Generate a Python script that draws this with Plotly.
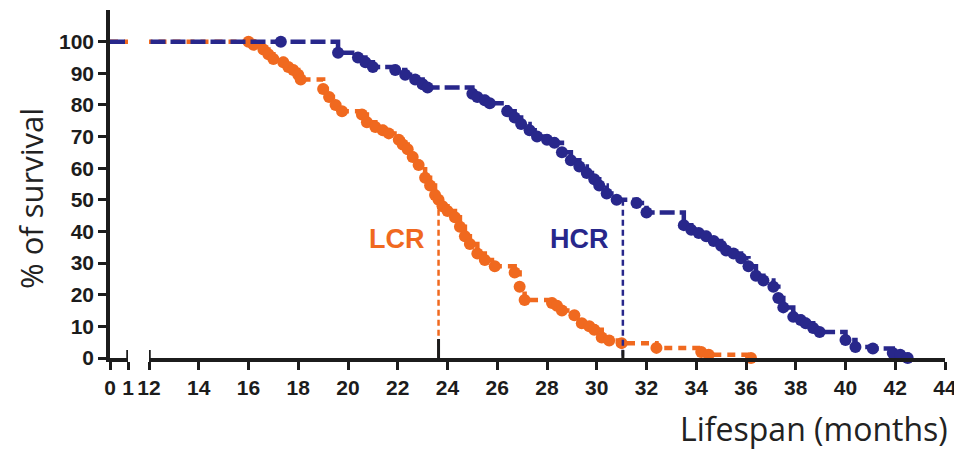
import plotly.graph_objects as go

# ---------------- data ----------------
hcr_months = [0, 17.3, 19.6, 20.4, 20.7, 21.0, 21.9, 22.3, 22.7, 23.0, 23.2, 25.0, 25.2, 25.5,
              25.7, 26.4, 26.7, 26.96, 27.3, 27.6, 28.0, 28.3, 28.6, 28.96, 29.3, 29.6, 29.9,
              30.1, 30.4, 30.8, 31.6, 32.0, 33.5, 33.8, 34.1, 34.4, 34.7, 35.0, 35.2, 35.5,
              35.8, 36.1, 36.4, 36.7, 37.1, 37.3, 37.5, 37.9, 38.2, 38.4, 38.7, 38.96, 40.0,
              40.4, 41.1, 41.9, 42.2, 42.5]
hcr_surv = [100, 100, 96.5, 95, 93.5, 92, 91, 89.5, 88, 86.5, 85.5, 83.5, 82.5, 81.5,
            80.5, 78, 76, 74, 72, 70, 69, 68, 65, 62.5, 60.5, 58.5, 56.5,
            54.5, 52, 50, 49, 46, 42, 40.5, 39.5, 38.5, 37, 35.5, 34, 33,
            31.5, 29, 26, 24.5, 22.5, 19, 16, 13, 12, 11, 9.5, 8.2, 5.7,
            3.5, 3.0, 1.6, 1.0, 0]

lcr_months = [0, 16.0, 16.2, 16.6, 16.8, 17.0, 17.4, 17.6, 17.8, 18.0, 18.1, 19.0, 19.24,
              19.5, 19.76, 20.56, 20.76, 21.1, 21.4, 21.64, 22.04, 22.2, 22.4, 22.6, 22.84,
              23.1, 23.3, 23.5, 23.64, 23.8, 24.0, 24.3, 24.5, 24.7, 24.9, 25.2, 25.5, 25.9,
              26.7, 26.9, 27.1, 28.2, 28.4, 28.6, 29.1, 29.4, 29.7, 29.9, 30.2, 30.5, 31.0,
              32.4, 34.2, 34.5, 36.2]
lcr_surv = [100, 100, 99, 97.5, 96, 94.5, 93.5, 92, 91, 89.5, 88, 85, 82.5,
            80, 78, 77, 74.5, 73, 72, 71, 69, 67.5, 66, 63.5, 61,
            57, 54.5, 51.5, 50, 48, 46.5, 44.5, 41.5, 38.5, 36, 33, 31, 29,
            27, 22.5, 18.3, 17.4, 16.5, 15, 13.5, 11, 10, 8.9, 6.5, 5.5, 4.7,
            3.2, 1.9, 1.0, 0]

lcr_median = 23.64
hcr_median = 31.05
median_level = 50

y_ticks = [0, 10, 20, 30, 40, 50, 60, 70, 80, 90, 100]
x_ticks_low = [0, 1]
x_ticks_high = [12, 14, 16, 18, 20, 22, 24, 26, 28, 30, 32, 34, 36, 38, 40, 42, 44]

group_labels = ["LCR", "HCR"]
label_pos = [(21.95, 37.6), (29.3, 37.6)]
x_title = "Lifespan (months)"
y_title = "% of survival"

NAVY = "#28278B"
ORANGE = "#F0691F"
AXIS = "#1c1c1c"

# ---------------- layout geometry (page pixels) ----------------
PAGE_W, PAGE_H = 962, 468
OFF = 8                      # default body margin of the html page
W, H = PAGE_W - OFF, PAGE_H - OFF
plot_left, plot_right, plot_top, plot_bottom = 110, 945, 10, 358   # page coords
L = plot_left - OFF
T = plot_top - OFF
R = W - (plot_right - OFF)
B = H - (plot_bottom - OFF)
plot_w = plot_right - plot_left
plot_h = plot_bottom - plot_top


def px_to_paper_x(px):
    return (px - plot_left) / plot_w


def px_to_paper_y(py):
    return (plot_bottom - py) / plot_h


fig = go.Figure()

series = [
    ("LCR", lcr_months, lcr_surv, ORANGE, "8px,6px"),
    ("HCR", hcr_months, hcr_surv, NAVY, "15px,5px"),
]

for name, xs, ys, col, dash in series:
    # low segment (0-1 months)
    fig.add_trace(go.Scatter(x=xs, y=ys, xaxis="x", yaxis="y", mode="lines",
                             line=dict(color=col, width=4.5, dash=dash, shape="hv"),
                             showlegend=False, hoverinfo="skip"))
    # main segment (12-44 months)
    fig.add_trace(go.Scatter(x=xs, y=ys, xaxis="x2", yaxis="y", mode="lines+markers",
                             line=dict(color=col, width=4.5, dash=dash, shape="hv"),
                             marker=dict(color=col, size=12),
                             cliponaxis=False, name=name, showlegend=False))

# median drop lines
for med, col, stub in [(lcr_median, ORANGE, 6), (hcr_median, NAVY, 2.5)]:
    fig.add_trace(go.Scatter(x=[med, med], y=[median_level, 0], xaxis="x2", yaxis="y",
                             mode="lines", line=dict(color=col, width=2.5, dash="6px,4px"),
                             showlegend=False, hoverinfo="skip"))
    fig.add_trace(go.Scatter(x=[med, med], y=[stub, 0], xaxis="x2", yaxis="y",
                             mode="lines", line=dict(color=AXIS, width=3),
                             showlegend=False, hoverinfo="skip", cliponaxis=False))

# axis-break end bars
fig.add_shape(type="line", xref="x", yref="y", x0=x_ticks_low[-1], x1=x_ticks_low[-1],
              y0=0, y1=2.5, line=dict(color=AXIS, width=3.5))
fig.add_shape(type="line", xref="x2", yref="y", x0=x_ticks_high[0], x1=x_ticks_high[0],
              y0=0, y1=2.5, line=dict(color=AXIS, width=3.5))

tickfont = dict(family="Liberation Sans, Arial, sans-serif", size=21, color=AXIS, weight="bold")

d1 = px_to_paper_x(128)
d2 = px_to_paper_x(149)

fig.update_layout(
    width=W, height=H,
    margin=dict(l=L, r=R, t=T, b=B),
    paper_bgcolor="white", plot_bgcolor="white",
    xaxis=dict(domain=[0, d1], range=[0, 1], tickvals=x_ticks_low,
               showline=True, linecolor=AXIS, linewidth=3.5, ticks="outside",
               ticklen=8, tickwidth=3, tickcolor=AXIS, tickfont=tickfont,
               showgrid=False, zeroline=False, anchor="y"),
    xaxis2=dict(domain=[d2, 1], range=[12, 44], tickvals=x_ticks_high,
                showline=True, linecolor=AXIS, linewidth=3.5, ticks="outside",
                ticklen=8, tickwidth=3, tickcolor=AXIS, tickfont=tickfont,
                showgrid=False, zeroline=False, anchor="y"),
    yaxis=dict(range=[0, 110], tickvals=y_ticks, showline=True, linecolor=AXIS,
               linewidth=3.5, ticks="outside", ticklen=8, tickwidth=3, tickcolor=AXIS,
               tickfont=tickfont, showgrid=False, zeroline=False, anchor="x"),
    showlegend=False,
)

for txt, (lx, ly), col in zip(group_labels, label_pos, [ORANGE, NAVY]):
    fig.add_annotation(x=lx, y=ly, xref="x2", yref="y", text=txt, showarrow=False,
                       font=dict(family="Liberation Sans, Arial, sans-serif", size=27,
                                 color=col, weight="bold"))

fig.add_annotation(x=px_to_paper_x(950), y=px_to_paper_y(428), xref="paper", yref="paper",
                   text=x_title, showarrow=False, xanchor="right", yanchor="middle",
                   font=dict(family="Open Sans, sans-serif", size=32, color="#222"))
fig.add_annotation(x=px_to_paper_x(31), y=px_to_paper_y(199), xref="paper", yref="paper",
                   text=y_title, showarrow=False, textangle=-90, xanchor="center",
                   yanchor="middle",
                   font=dict(family="Open Sans, sans-serif", size=31, color="#222"))

fig.write_html("out.html")
